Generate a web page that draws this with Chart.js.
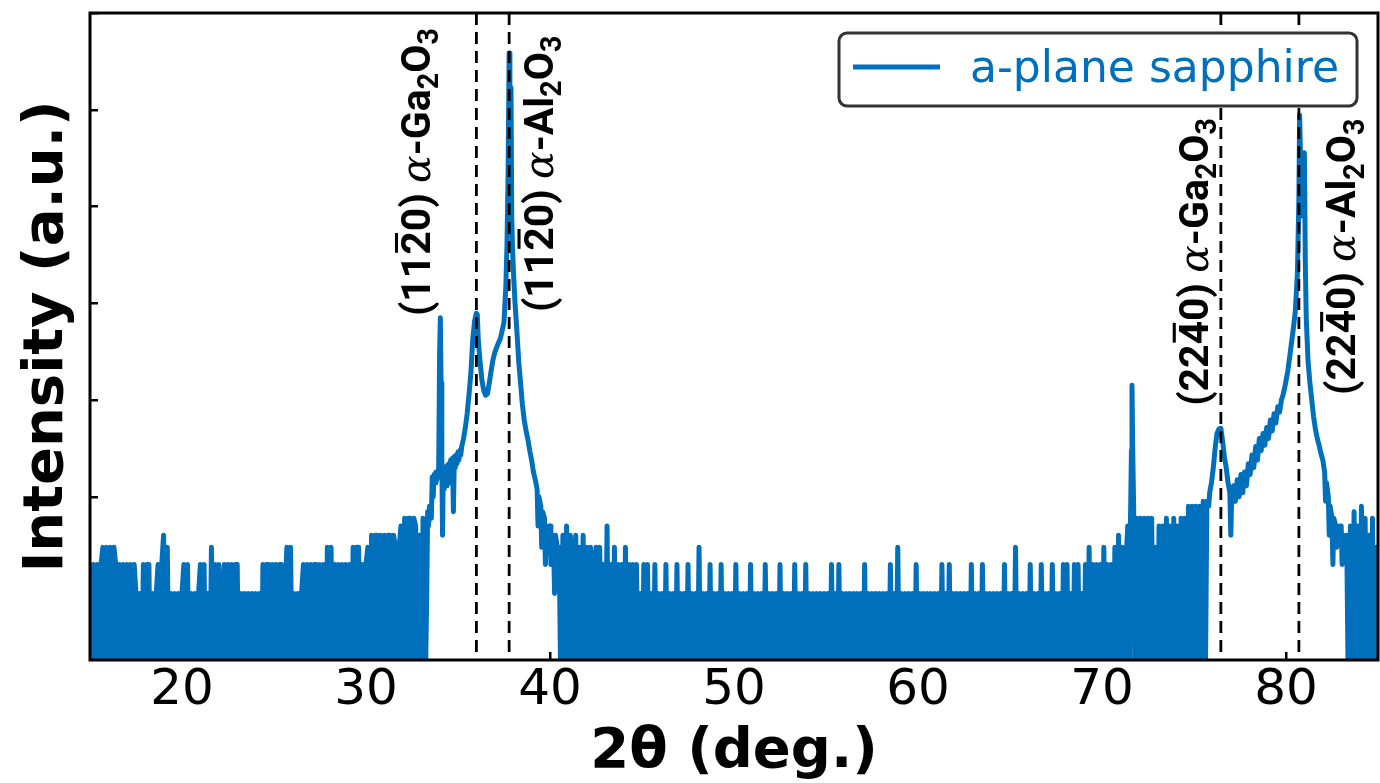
<!DOCTYPE html>
<html>
<head>
<meta charset="utf-8">
<title>a-plane sapphire XRD</title>
<script src="https://cdn.jsdelivr.net/npm/chart.js@4/dist/chart.umd.min.js"></script>
<style>
  html, body { margin: 0; padding: 0; background: #fff; overflow: hidden; }
  canvas { display: block; }
</style>
</head>
<body>
<canvas id="xrd" width="1380" height="783"></canvas>
<script>
// 2theta scan of a-plane sapphire, counts (0 = no counts)

// 15.0 .. 33.2 deg, 0.1 deg step
const noiseA = [
  2,0,2,0,2,0,2,3,0,3,
  0,3,0,3,2,0,2,0,2,0,
  2,0,2,0,2,1,0,1,0,2,
  0,2,2,0,1,0,1,2,0,2,
  4,0,3,0,1,0,1,0,1,0,
  1,2,0,2,0,1,0,1,0,1,
  2,0,2,0,1,0,3,0,2,0,
  2,0,1,2,0,2,0,2,0,2,
  2,0,1,0,1,0,1,0,1,0,
  1,0,1,0,2,0,2,2,0,2,
  0,2,0,2,2,0,1,3,0,3,
  0,1,0,1,0,1,2,0,2,0,
  2,0,2,2,0,2,0,2,0,3,
  0,3,0,2,0,2,0,2,0,2,
  0,2,0,3,0,3,3,0,2,0,
  2,3,0,4,0,4,4,0,4,0,
  4,0,4,4,0,4,3,0,3,5,
  0,6,0,6,6,0,6,5,0,4,
  0,6,0
];

// (11-20) region, 33.3 .. 40.5 deg
const peakAX = [
  33.3,33.35,33.4,33.45,33.5,33.55,33.6,33.65,33.7,33.75,33.8,33.85,33.9,33.95,
  34.0,34.04,34.08,34.12,34.16,
  34.2,34.25,34.3,34.35,34.4,34.45,34.5,34.55,34.6,34.65,34.7,34.75,34.8,34.85,34.9,34.95,35.0,35.05,35.1,35.15,35.2,
  35.3,35.4,35.5,35.6,35.7,35.8,35.9,36.0,
  36.05,36.1,36.2,36.3,36.4,36.5,36.6,36.7,36.8,36.9,37.0,37.1,37.2,37.3,37.4,37.5,37.6,
  37.66,37.72,37.78,37.82,37.88,37.92,37.96,38.02,38.1,
  38.2,38.3,38.4,38.5,38.6,38.7,38.8,38.9,39.0,39.1,39.2,39.3,
  39.35,39.4,39.5,39.55,39.6,39.7,39.75,39.8,39.9,40.0,40.05,40.1,40.2,40.25,40.3,40.4,40.5
];
const peakACounts = [
  1,7,5,8,7,6,16,10,17,14,18,15,17,20,
  300,710,150,25,4,
  18,12,20,13,21,15,22,14,24,17,25,7,26,20,27,22,29,24,30,27,33,
  40,52,73,115,190,420,650,790,
  760,420,250,160,125,112,116,150,200,260,310,350,390,430,520,640,1500,
  3800,20000,386000,60000,170000,8000,3800,2000,1000,
  520,250,150,90,62,48,39,30,24,18,15,12,
  5,10,8,3,7,6,2,5,4,5,2,4,3,1,4,3,3
];

// 40.6 .. 71.3 deg, 0.1 deg step
const noiseB = [
  0,4,0,5,0,4,3,0,4,0,
  3,0,4,0,3,0,3,2,0,3,
  0,3,0,2,0,5,0,2,0,3,
  0,2,0,2,0,3,0,2,0,2,
  0,2,0,1,0,2,0,2,0,1,
  0,2,0,1,0,1,0,2,0,1,
  0,1,0,2,0,1,0,1,0,2,
  0,1,0,1,0,3,0,1,0,1,
  0,2,0,1,0,1,0,2,0,1,
  0,1,0,1,0,2,0,1,0,1,
  0,1,0,2,0,1,0,1,0,1,
  0,2,0,1,0,1,0,1,0,2,
  0,1,0,1,0,1,0,2,0,1,
  0,1,0,2,0,1,0,1,0,1,
  0,1,0,1,0,1,0,2,0,1,
  0,2,0,1,0,1,0,1,0,1,
  0,1,0,1,0,2,0,1,0,1,
  0,1,0,1,0,1,0,1,0,2,
  0,1,0,3,0,1,0,1,0,1,
  0,1,0,2,0,1,0,1,0,1,
  0,1,0,1,0,1,0,2,0,1,
  0,2,0,1,0,1,0,1,0,1,
  0,1,0,2,0,1,0,1,0,2,
  0,1,0,1,0,1,0,1,0,1,
  0,2,0,1,0,1,0,3,0,1,
  0,1,0,1,0,2,0,1,0,1,
  0,2,0,1,0,1,0,2,0,1,
  0,1,0,2,0,2,0,1,0,2,
  0,2,0,1,0,2,0,3,0,2,
  0,2,0,2,0,3,0,2,0,2,
  0,3,0,4,0,3,0,2
];

// sharp line near 71.6 deg
const spikeX = [71.4, 71.47, 71.55, 71.6, 71.63, 71.67, 71.72, 71.8];
const spikeCounts = [5, 0, 6, 30, 142, 30, 8, 0];

// 71.9 .. 75.7 deg, 0.1 deg step
const noiseC = [
  6,0,6,0,6,0,6,0,6,0,
  3,0,5,0,5,0,6,0,5,0,
  6,0,5,0,6,0,6,0,8,0,
  8,0,8,0,8,0,9,0,9
];

// (22-40) region, 75.8 .. 83.3 deg
const peakBX = [
  75.8,75.85,75.95,76.05,76.15,76.25,76.35,76.46,76.55,76.65,
  76.75,76.85,76.95,77.0,77.05,77.15,77.25,77.35,77.45,77.55,
  77.65,77.75,77.85,77.95,78.05,78.15,78.25,78.35,78.45,78.55,
  78.65,78.75,78.85,78.95,79.05,79.15,79.25,79.35,79.45,79.55,
  79.65,79.75,79.85,79.95,80.1,80.25,80.4,80.5,80.62,80.7,
  80.74,80.86,81.0,81.05,81.1,81.2,81.3,81.4,81.5,81.6,
  81.7,81.8,81.9,82.0,82.1,82.15,82.2,82.3,82.35,82.4,
  82.5,82.55,82.6,82.7,82.75,82.8,82.9,83.0,83.05,83.1,
  83.2,83.3
];
const peakBCounts = [
  8,11,14,20,32,45,50,51,38,26,
  20,14,11,4,10,13,9,15,10,17,
  11,18,13,22,17,27,20,33,24,40,
  30,45,34,52,40,62,48,72,58,85,
  75,100,115,140,200,330,550,800,2000,12000,
  88000,8000,36000,2600,700,250,150,100,67,50,
  40,34,28,24,18,9,14,10,4,8,
  6,2,6,5,3,5,4,5,2,4,
  3,4
];

// 83.4 .. 85.0 deg, 0.1 deg step
const noiseD = [0,5,0,7,0,5,0,8,0,6,0,4,0,6,0,3,0];

const xTickValues = [20, 30, 40, 50, 60, 70, 80];
const yTickValues = [1, 10, 100, 1000, 10000, 100000, 1000000];

// reference positions (dashed lines) and their labels
const refLines = [36.0, 37.78, 76.46, 80.7];
const refLabelText = [
  [['(11', ''], ['2', 'bar'], ['0) ', ''], ['α', 'greek'], ['-Ga', ''], ['2', 'sub'], ['O', ''], ['3', 'sub']],
  [['(11', ''], ['2', 'bar'], ['0) ', ''], ['α', 'greek'], ['-Al', ''], ['2', 'sub'], ['O', ''], ['3', 'sub']],
  [['(22', ''], ['4', 'bar'], ['0) ', ''], ['α', 'greek'], ['-Ga', ''], ['2', 'sub'], ['O', ''], ['3', 'sub']],
  [['(22', ''], ['4', 'bar'], ['0) ', ''], ['α', 'greek'], ['-Al', ''], ['2', 'sub'], ['O', ''], ['3', 'sub']]
];
// label start: [2theta of baseline, counts at text start]
const refLabelAt = [[33.49, 738], [40.15, 811], [75.76, 87], [83.77, 113]];

const seriesName = 'a-plane sapphire';
const BLUE = '#0070BD';
const Y_MIN = 0.2056;
const Y_MAX = 1e6;
const ZERO_FLOOR = 0.05; // log(0): drawn below the axis and clipped

function stepped(start, vals) {
  return vals.map((c, i) => ({ x: +(start + i * 0.1).toFixed(2), y: c }));
}
function paired(xs, ys) {
  return xs.map((x, i) => ({ x: x, y: ys[i] }));
}

const scan = [].concat(
  stepped(15.0, noiseA),
  paired(peakAX, peakACounts),
  stepped(40.6, noiseB),
  paired(spikeX, spikeCounts),
  stepped(71.9, noiseC),
  paired(peakBX, peakBCounts),
  stepped(83.4, noiseD)
).map(p => ({ x: p.x, y: p.y > 0 ? p.y : ZERO_FLOOR }));

function drawRotatedLabel(ctx, px, py, parts, size) {
  ctx.save();
  ctx.translate(px, py);
  ctx.rotate(-Math.PI / 2);
  ctx.fillStyle = '#000';
  ctx.textAlign = 'left';
  ctx.textBaseline = 'alphabetic';
  let cx = 0;
  parts.forEach(([t, kind]) => {
    let fs = size, dy = 0;
    if (kind === 'sub') { fs = size * 0.7; dy = size * 0.2; }
    ctx.font = kind === 'greek' ? 'italic ' + fs + 'px "DejaVu Serif"' : 'bold ' + fs + 'px Roboto';
    ctx.fillText(t, cx, dy);
    const w = ctx.measureText(t).width;
    if (kind === 'bar') {
      ctx.fillRect(cx + w * 0.08, -size * 0.86, w * 0.84, size * 0.075);
    }
    cx += w;
  });
  ctx.restore();
}

const xrdDecor = {
  id: 'xrdDecor',
  afterDatasetsDraw(chart) {
    const { ctx, chartArea: a, scales: { x, y } } = chart;
    ctx.save();
    // frame
    ctx.strokeStyle = '#000';
    ctx.lineWidth = 3;
    ctx.strokeRect(a.left, a.top, a.right - a.left, a.bottom - a.top);
    // dashed reference lines
    ctx.lineWidth = 2.8;
    ctx.setLineDash([12, 7]);
    refLines.forEach(v => {
      const px = x.getPixelForValue(v);
      ctx.beginPath();
      ctx.moveTo(px, a.top);
      ctx.lineTo(px, a.bottom);
      ctx.stroke();
    });
    ctx.setLineDash([]);
    ctx.restore();
    refLabelText.forEach((parts, i) => {
      const [tx, ty] = refLabelAt[i];
      drawRotatedLabel(ctx, x.getPixelForValue(tx), y.getPixelForValue(ty), parts, 41);
    });
  },
  afterDraw(chart) {
    const { ctx, chartArea: a } = chart;
    const w = 518, h = 73;
    const lx = a.right - 21 - w, ly = a.top + 20;
    ctx.save();
    ctx.beginPath();
    ctx.roundRect(lx, ly, w, h, 8);
    ctx.fillStyle = '#fff';
    ctx.fill();
    ctx.lineWidth = 3;
    ctx.strokeStyle = '#333';
    ctx.stroke();
    ctx.strokeStyle = BLUE;
    ctx.lineWidth = 5;
    ctx.beginPath();
    ctx.moveTo(lx + 14, ly + 34);
    ctx.lineTo(lx + 101, ly + 34);
    ctx.stroke();
    ctx.fillStyle = BLUE;
    ctx.font = '44px "DejaVu Sans"';
    ctx.textBaseline = 'alphabetic';
    ctx.fillText(seriesName, lx + 131, ly + 49);
    ctx.restore();
  }
};

Chart.defaults.font.family = '"DejaVu Sans"';
Chart.defaults.color = '#000';

new Chart(document.getElementById('xrd'), {
  type: 'line',
  data: {
    datasets: [{
      label: seriesName,
      data: scan,
      borderColor: BLUE,
      borderWidth: 5,
      borderJoinStyle: 'round',
      borderCapStyle: 'round',
      pointRadius: 0,
      tension: 0,
      fill: false,
      clip: 0
    }]
  },
  options: {
    responsive: false,
    animation: false,
    devicePixelRatio: 1,
    layout: { padding: { top: 13, right: 2, left: 0, bottom: 0 } },
    plugins: { legend: { display: false }, tooltip: { enabled: false } },
    scales: {
      x: {
        type: 'linear',
        min: 15,
        max: 85,
        afterBuildTicks: s => { s.ticks = xTickValues.map(v => ({ value: v })); },
        afterFit: s => { s.height = 123; },
        ticks: { font: { size: 50 }, color: '#000', padding: 9, autoSkip: false, maxRotation: 0 },
        grid: { display: true, drawOnChartArea: false, drawTicks: true, tickLength: -8, color: '#000', lineWidth: 2.5 },
        border: { display: false },
        title: { display: true, text: '2θ (deg.)', font: { size: 56, weight: 'bold' }, color: '#000', padding: { top: 0, bottom: -3 } }
      },
      y: {
        type: 'logarithmic',
        min: Y_MIN,
        max: Y_MAX,
        afterBuildTicks: s => { s.ticks = yTickValues.map(v => ({ value: v })); },
        afterFit: s => { s.width = 90; },
        ticks: { display: false },
        grid: { display: true, drawOnChartArea: false, drawTicks: true, tickLength: -8, color: '#000', lineWidth: 2.5 },
        border: { display: false },
        title: { display: true, text: 'Intensity (a.u.)', font: { size: 56, weight: 'bold' }, color: '#000', padding: { top: 14, bottom: 0 } }
      }
    }
  },
  plugins: [xrdDecor]
});
</script>
</body>
</html>
